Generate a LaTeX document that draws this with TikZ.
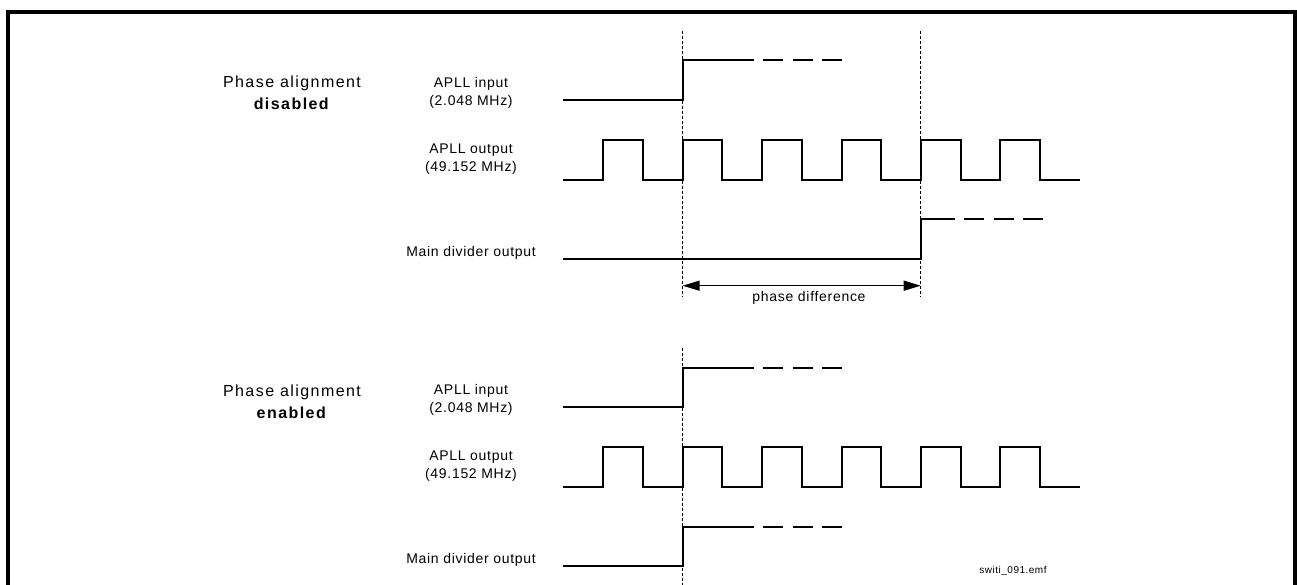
\documentclass[tikz,border=0pt]{standalone}
\usepackage{fontspec}
\setmainfont{Liberation Sans}
\newfontfamily\lblfont[LetterSpace=5]{Liberation Sans}
\newfontfamily\hdfont[LetterSpace=9]{Liberation Sans}
\usetikzlibrary{arrows.meta}

\begin{document}
\begin{tikzpicture}[x=1pt, y=-1pt, >=Stealth, line width=2pt,
    sig/.style={line width=2pt, line join=miter},
    sigdash/.style={sig, dash pattern=on 20pt off 9.5pt, dash phase=20pt},
    guide/.style={line width=0.8pt, dash pattern=on 3pt off 2pt},
    lbl/.style={font=\fontsize{14}{18}\lblfont, align=center, inner sep=0pt},
    hd/.style={font=\fontsize{16}{22}\hdfont, align=center, inner sep=0pt}]
    \clip (0,0) rectangle (1297,585);
    \draw[line width=4pt] (8,620) -- (8,12) -- (1295,12) -- (1295,620);
    % labels
    \node[hd] (hddis) at (292,93) {Phase alignment\\\textbf{disabled}};
    \node[hd] (hden) at (292,402) {Phase alignment\\\textbf{enabled}};
    \node[lbl] (indis) at (471,93) {APLL input\\(2.048 MHz)};
    \node[lbl] (outdis) at (471,159) {APLL output\\(49.152 MHz)};
    \node[lbl] (divdis) at (471,252.5) {Main divider output};
    \node[lbl] (inen) at (471,400) {APLL input\\(2.048 MHz)};
    \node[lbl] (outen) at (471,466) {APLL output\\(49.152 MHz)};
    \node[lbl] (diven) at (471,559.5) {Main divider output};
    \node[font=\fontsize{10}{12}\lblfont, inner sep=0pt] (fname) at (1013,571) {switi\_091.emf};
    % APLL input and output, both cases
    \foreach \oy in {0,307}{
        \draw[sig] (562.7,100+\oy) -- (682.7,100+\oy) -- (682.7,60.5+\oy) -- (753.5,60.5+\oy);
        \draw[sigdash] (753.5,60.5+\oy) -- (842,60.5+\oy);
        \draw[sig] (562.7,180+\oy) -- (603.3,180+\oy)
            \foreach \k in {0,...,5}{ -- ++(0,-40) -- ++(39.7,0) -- ++(0,40) -- ++(39.7,0)};
    }
    % main divider output
    \draw[sig] (562.7,259) -- (920.7,259) -- (920.7,219.5) -- (954.5,219.5);
    \draw[sigdash] (954.5,219.5) -- (1043,219.5);
    \draw[sig] (562.7,566) -- (682.7,566) -- (682.7,526.5) -- (753.5,526.5);
    \draw[sigdash] (753.5,526.5) -- (842,526.5);
    % edges and phase difference
    \coordinate (edgeAtop) at (682.7,31);
    \coordinate (edgeAbot) at (682.7,297);
    \coordinate (edgeBtop) at (920.7,31);
    \coordinate (edgeBbot) at (920.7,297);
    \coordinate (edgeCtop) at (682.7,348);
    \coordinate (edgeCbot) at (682.7,590);
    \draw[guide] (edgeAtop) -- (edgeAbot);
    \draw[guide] (edgeBtop) -- (edgeBbot);
    \draw[guide] (edgeCtop) -- (edgeCbot);
    \coordinate (phA) at (682.7,285.7);
    \coordinate (phB) at (920.7,285.7);
    \draw[{Triangle[length=17pt,width=10pt]}-{Triangle[length=17pt,width=10pt]}, line width=1.5pt] (phA) -- (phB);
    \node[lbl] (phdiff) at (809,298) {phase difference};
\end{tikzpicture}
\end{document}
